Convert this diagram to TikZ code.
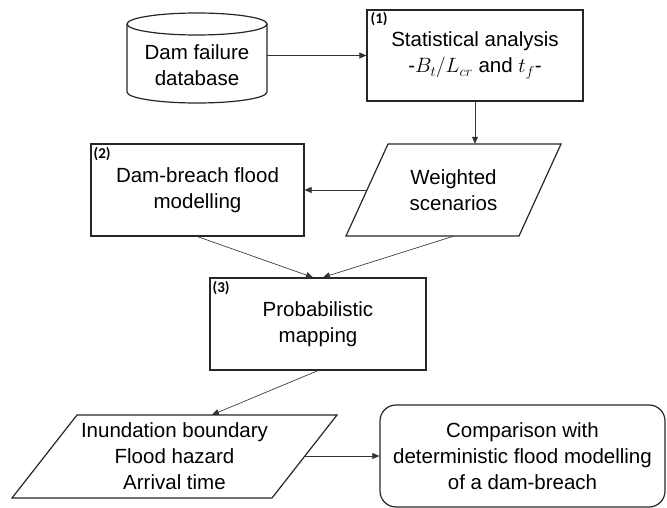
\documentclass[tikz,border=0pt]{standalone}
\usepackage{fontspec}
\setmainfont{Liberation Sans}
\newfontfamily\tagfont{Carlito}
\usetikzlibrary{arrows.meta,calc}

\begin{document}
\begin{tikzpicture}[x=1pt,y=-1pt,
  every node/.style={font=\fontsize{20.5}{26}\selectfont, align=center},
  box/.style={draw=black!85, line width=1.2pt, rectangle, inner sep=0pt},
  slot/.style={rectangle, inner sep=0pt},
  outline/.style={draw=black!85, line width=1.2pt, line join=miter},
  flow/.style={draw=black!80, line width=0.65pt, -{Triangle[length=7pt,width=6pt]}},
  tag/.style={font=\tagfont\fontsize{15}{17}\selectfont\bfseries, inner sep=0pt, anchor=north west},
]
\useasboundingbox (0,0) rectangle (667,508);

% database cylinder
\draw[outline, fill=white] (127,24) -- (127,92)
  arc[start angle=180, end angle=360, x radius=70pt, y radius=11pt] -- (267,24);
\draw[outline] (197,24) ellipse [x radius=70pt, y radius=11pt];
\node[slot, minimum width=140pt, minimum height=91pt] (db) at (197,58) {};
\node (dbtext) at (197,65) {Dam failure\\database};

% (1) statistical analysis
\node[box, minimum width=216pt, minimum height=91pt] (stat) at (475,55.5)
  {Statistical analysis\\-$B_t/L_{cr}$ and $t_f$-};
\node[tag] (t1) at ($(stat.north west)+(4,3)$) {(1)};

% weighted scenarios (data parallelogram)
\node[slot, minimum width=173pt, minimum height=92pt] (scen) at (453.5,190) {Weighted\\scenarios};
\draw[outline] (388,144) -- (561,144) -- (519,236) -- (346,236) -- cycle;

% (2) dam-breach flood modelling
\node[box, minimum width=213pt, minimum height=92pt] (dmb) at (197.5,190)
  {Dam-breach flood\\modelling};
\node[tag] (t2) at ($(dmb.north west)+(3,4)$) {(2)};

% (3) probabilistic mapping
\node[box, minimum width=216pt, minimum height=92pt] (prob) at (318,324)
  {Probabilistic\\mapping};
\node[tag] (t3) at ($(prob.north west)+(3,4)$) {(3)};

% outputs (data parallelogram)
\node[slot, minimum width=260pt, minimum height=83pt] (outn) at (174.5,456.5)
  {Inundation boundary\\Flood hazard\\Arrival time};
\draw[outline] (77,415) -- (337,415) -- (272,498) -- (12,498) -- cycle;
\coordinate (outR) at (305,456);

% comparison
\node[box, rounded corners=16pt, minimum width=285pt, minimum height=102pt] (cmp) at (522.5,456)
  {Comparison with\\deterministic flood modelling\\of a dam-breach};

% connectors
\draw[flow] (db.east |- stat.west) -- (stat.west);
\draw[flow] (stat.south) -- (stat.south |- scen.north);
\draw[flow] (scen.west) -- (dmb.east);
\draw[flow] (dmb.south) -- ($(prob.north)+(-5,0)$);
\draw[flow] (scen.south) -- ($(prob.north)+(5,0)$);
\draw[flow] (prob.south) -- ($(outn.north)+(37.5,0)$);
\draw[flow] (outR) -- (cmp.west);
\end{tikzpicture}
\end{document}
